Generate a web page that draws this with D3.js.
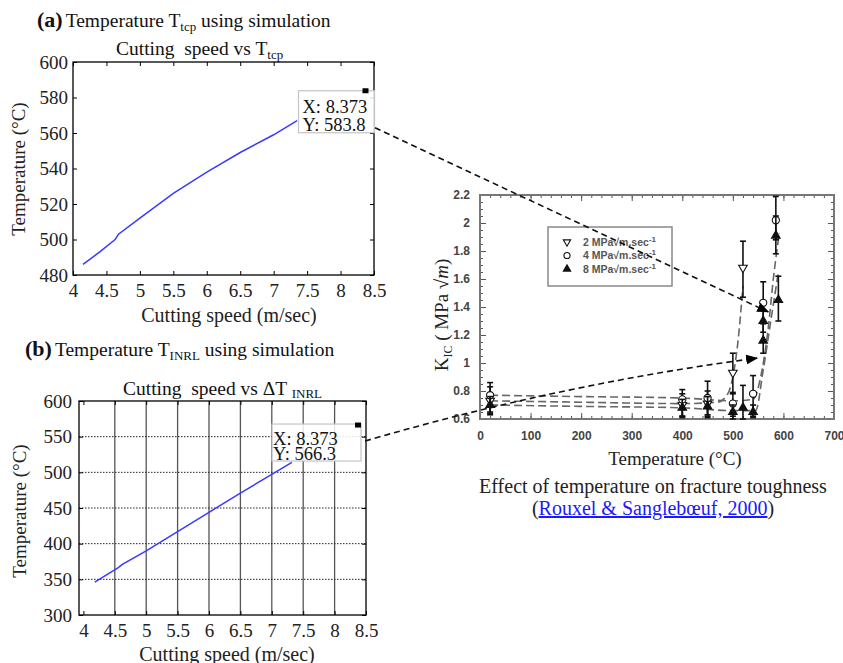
<!DOCTYPE html>
<html lang="en">
<head>
<meta charset="utf-8">
<title>Cutting speed vs temperature / fracture toughness</title>
<script src="https://cdnjs.cloudflare.com/ajax/libs/d3/7.8.5/d3.min.js"></script>
<style>
  body { margin: 0; background: #fff; }
  svg { display: block; }
</style>
</head>
<body>
<div id="main"></div>
<script>
// ---- panel (a): cutting speed vs T_tcp
const speedA = [4.15, 4.4, 4.63, 4.68, 5, 5.5, 6, 6.5, 7, 7.35];
const tempA  = [486, 493, 500, 503, 512, 526, 538, 549, 559, 567];
const speedTicks = [4, 4.5, 5, 5.5, 6, 6.5, 7, 7.5, 8, 8.5];
const tempTicksA = [480, 500, 520, 540, 560, 580, 600];

// ---- panel (b): cutting speed vs dT_INRL
const speedB = [4.18, 4.55, 4.62, 5, 5.5, 6, 6.5, 7, 7.32];
const tempB  = [346, 366, 371, 390, 417, 444, 471, 497, 514];
const tempTicksB = [300, 350, 400, 450, 500, 550, 600];

// data tips
const tipX = [8.373, 8.373];
const tipY = [583.8, 566.3];

// ---- right panel: K_IC vs temperature (Rouxel & Sanglebœuf 2000)
const rates = ["2", "4", "8"];
const t2 = [20, 400, 450, 500, 520];
const k2 = [0.73, 0.70, 0.71, 0.93, 1.68];
const lo2 = [0.65, 0.62, 0.63, 0.78, 1.47];
const hi2 = [0.83, 0.78, 0.80, 1.07, 1.87];
const t4 = [20, 400, 450, 500, 540, 560, 585];
const k4 = [0.77, 0.74, 0.75, 0.71, 0.78, 1.43, 2.02];
const lo4 = [0.64, 0.61, 0.62, 0.62, 0.62, 1.29, 1.88];
const hi4 = [0.86, 0.81, 0.87, 0.79, 0.91, 1.58, 2.19];
const t8 = [20, 400, 450, 500, 520, 540, 560, 560, 585, 590];
const k8 = [0.70, 0.68, 0.69, 0.65, 0.68, 0.65, 1.16, 1.30, 1.91, 1.45];
const lo8 = [0.63, 0.62, 0.61, 0.60, 0.60, 0.61, 1.07, 1.22, 1.78, 1.30];
const hi8 = [0.76, 0.74, 0.76, 0.70, 0.84, 0.70, 1.28, 1.38, 2.05, 1.62];
// dashed fit curves
const fitT2 = [20, 200, 400, 470, 490, 500, 510, 520];
const fitK2 = [0.73, 0.72, 0.71, 0.72, 0.78, 0.90, 1.15, 1.55];
const fitT4 = [20, 200, 400, 500, 540, 555, 570, 580, 592];
const fitK4 = [0.77, 0.76, 0.75, 0.73, 0.74, 0.90, 1.25, 1.60, 1.93];
const fitT8 = [20, 200, 400, 500, 545, 560, 575, 590];
const fitK8 = [0.70, 0.69, 0.68, 0.66, 0.66, 0.95, 1.30, 1.65];
const tTicks = [0, 100, 200, 300, 400, 500, 600, 700];
const kTicks = [0.6, 0.8, 1, 1.2, 1.4, 1.6, 1.8, 2, 2.2];
// where the connector arrows land (temperature, K_IC)
const arrowT = [570, 548];
const arrowK = [1.365, 1.035];

const serif = "'Liberation Serif', 'Times New Roman', serif";
const sans = "'Liberation Sans', Arial, sans-serif";

const svg = d3.select("#main").append("svg")
  .attr("width", 843).attr("height", 663);

const defs = svg.append("defs");
defs.append("marker")
  .attr("id", "arrow")
  .attr("viewBox", "0 0 12 10")
  .attr("refX", 11).attr("refY", 5)
  .attr("markerWidth", 12).attr("markerHeight", 10)
  .attr("markerUnits", "userSpaceOnUse")
  .attr("orient", "auto")
  .append("path").attr("d", "M0,0 L12,5 L0,10 z").attr("fill", "#000");

// scales
const xA = d3.scaleLinear([4, 8.5], [73, 374]);
const yA = d3.scaleLinear([480, 600], [275, 62]);
const xB = d3.scaleLinear([3.93, 8.5], [79, 366]);
const yB = d3.scaleLinear([300, 600], [615, 401]);
const xK = d3.scaleLinear([0, 700], [480, 834]);
const yK = d3.scaleLinear([0.6, 2.2], [419, 195]);

function styleAxis(g, font, size, weight, color) {
  g.select(".domain").remove();
  g.selectAll("line").attr("stroke", "#000");
  g.selectAll("text")
    .attr("font-family", font).attr("font-size", size)
    .attr("font-weight", weight).attr("fill", color);
}

// matlab-style box with inward ticks
function matlabPanel(x, y, yTicks, pad) {
  const g = svg.append("g");
  const [x0, x1] = x.range(), [y0, y1] = y.range();
  g.append("g").attr("transform", `translate(0,${y0})`)
    .call(d3.axisBottom(x).tickValues(speedTicks).tickSizeInner(-4).tickSizeOuter(0)
      .tickPadding(9).tickFormat(d3.format("")))
    .call(a => styleAxis(a, serif, 19, "normal", "#222"));
  g.append("g").attr("transform", `translate(0,${y1})`)
    .call(d3.axisTop(x).tickValues(speedTicks).tickSizeInner(-4).tickSizeOuter(0).tickFormat(""))
    .call(a => styleAxis(a, serif, 19, "normal", "#222"));
  g.append("g").attr("transform", `translate(${x0},0)`)
    .call(d3.axisLeft(y).tickValues(yTicks).tickSizeInner(-4).tickSizeOuter(0)
      .tickPadding(pad).tickFormat(d3.format("")))
    .call(a => styleAxis(a, serif, 19, "normal", "#222"));
  g.append("g").attr("transform", `translate(${x1},0)`)
    .call(d3.axisRight(y).tickValues(yTicks).tickSizeInner(-4).tickSizeOuter(0).tickFormat(""))
    .call(a => styleAxis(a, serif, 19, "normal", "#222"));
  return g;
}

function frame(g, x, y, color, w) {
  g.append("rect")
    .attr("x", x.range()[0]).attr("y", y.range()[1])
    .attr("width", x.range()[1] - x.range()[0])
    .attr("height", y.range()[0] - y.range()[1])
    .attr("fill", "none").attr("stroke", color).attr("stroke-width", w);
}

function blueLine(g, x, y, xs, ys) {
  g.append("path")
    .datum(xs.map((v, i) => [v, ys[i]]))
    .attr("d", d3.line().x(d => x(d[0])).y(d => y(d[1])))
    .attr("fill", "none").attr("stroke", "#3a3aff").attr("stroke-width", 1.5);
}

function tip(g, mx, my, box, tx, lines) {
  g.append("rect")
    .attr("x", mx + box[0]).attr("y", my + box[1])
    .attr("width", box[2]).attr("height", box[3])
    .attr("fill", "#fff").attr("fill-opacity", 0.85)
    .attr("stroke", "#c4c4c4").attr("stroke-width", 1.2);
  lines.forEach((s, i) => {
    g.append("text").attr("x", mx + tx[0]).attr("y", my + tx[1] + i * tx[2])
      .attr("font-family", serif).attr("font-size", 18.5).attr("fill", "#111")
      .text(s);
  });
  g.append("rect").attr("x", mx - 3).attr("y", my - 2.5)
    .attr("width", 6).attr("height", 5).attr("fill", "#000");
}

function axisLabelY(text, cx, cy, size) {
  return svg.append("text")
    .attr("transform", `translate(${cx},${cy}) rotate(-90)`)
    .attr("text-anchor", "middle").attr("dy", "0.35em")
    .attr("font-family", serif).attr("font-size", size).attr("fill", "#222")
    .text(text);
}

// ================= panel (a)
const ttl = svg.append("text").attr("x", 37).attr("y", 27)
  .attr("font-family", serif).attr("fill", "#111");
ttl.append("tspan").attr("font-weight", "bold").attr("font-size", 22).text("(a)");
ttl.append("tspan").attr("font-size", 19.5).attr("dx", 3).text("Temperature T");
ttl.append("tspan").attr("font-size", 13).attr("dy", 4).text("tcp");
ttl.append("tspan").attr("font-size", 19.5).attr("dy", -4).text(" using simulation");

const subA = svg.append("text").attr("x", 116).attr("y", 55)
  .attr("font-family", serif).attr("fill", "#111").attr("font-size", 19.5);
subA.append("tspan").text("Cutting  speed vs T").attr("xml:space", "preserve");
subA.append("tspan").attr("font-size", 13).attr("dy", 4).text("tcp");

const gA = matlabPanel(xA, yA, tempTicksA, 5);
blueLine(gA, xA, yA, speedA, tempA);
frame(gA, xA, yA, "#000", 1.3);
axisLabelY("Temperature (°C)", 18, 169, 19);
svg.append("text").attr("x", 229).attr("y", 322).attr("text-anchor", "middle")
  .attr("font-family", serif).attr("font-size", 20).attr("fill", "#222")
  .text("Cutting speed (m/sec)");

const mAx = xA(tipX[0]), mAy = yA(tipY[0]);
tip(gA, mAx, mAy, [-67, 0, 76, 42], [-63, 22, 18], ["X: " + tipX[0], "Y: " + tipY[0]]);

// ================= panel (b)
const ttlB = svg.append("text").attr("x", 25).attr("y", 356)
  .attr("font-family", serif).attr("fill", "#111");
ttlB.append("tspan").attr("font-weight", "bold").attr("font-size", 22).text("(b)");
ttlB.append("tspan").attr("font-size", 19.5).attr("dx", 3).text("Temperature T");
ttlB.append("tspan").attr("font-size", 13).attr("dy", 4).text("INRL");
ttlB.append("tspan").attr("font-size", 19.5).attr("dy", -4).text(" using simulation");

const subB = svg.append("text").attr("x", 123).attr("y", 395)
  .attr("font-family", serif).attr("fill", "#111").attr("font-size", 19.5);
subB.append("tspan").text("Cutting  speed vs ΔT ").attr("xml:space", "preserve");
subB.append("tspan").attr("font-size", 13).attr("dy", 3).text("INRL");

const gB = svg.append("g");
// grid: solid verticals, dotted horizontals
gB.selectAll("line.vg").data(speedTicks.slice(1, -1)).join("line")
  .attr("x1", d => xB(d)).attr("x2", d => xB(d))
  .attr("y1", yB.range()[0]).attr("y2", yB.range()[1])
  .attr("stroke", "#555").attr("stroke-width", 1.3);
gB.selectAll("line.hg").data(tempTicksB.slice(1, -1)).join("line")
  .attr("x1", xB.range()[0]).attr("x2", xB.range()[1])
  .attr("y1", d => yB(d)).attr("y2", d => yB(d))
  .attr("stroke", "#222").attr("stroke-width", 1).attr("stroke-dasharray", "1.5,1.5");
const gB2 = matlabPanel(xB, yB, tempTicksB, 7);
blueLine(gB2, xB, yB, speedB, tempB);
frame(gB2, xB, yB, "#000", 1.3);
axisLabelY("Temperature (°C)", 19, 511, 19);
svg.append("text").attr("x", 227).attr("y", 661).attr("text-anchor", "middle")
  .attr("font-family", serif).attr("font-size", 20).attr("fill", "#222")
  .text("Cutting speed (m/sec)");

const mBx = xB(tipX[1]), mBy = yB(tipY[1]);
tip(gB2, mBx, mBy, [-86, -1, 89, 37], [-85, 20, 15], ["X: " + tipX[1], "Y: " + tipY[1]]);

// ================= right panel
const gK = svg.append("g");
const xK0 = xK.range()[0], xK1 = xK.range()[1], yK0 = yK.range()[0], yK1 = yK.range()[1];
const minorT = d3.range(0, 701, 20), minorK = d3.range(0.6, 2.201, 0.05);

gK.append("g").attr("transform", `translate(0,${yK0})`)
  .call(d3.axisBottom(xK).tickValues(minorT).tickSizeInner(-3).tickSizeOuter(0).tickFormat(""))
  .call(a => styleAxis(a, sans, 12, "bold", "#444"));
gK.append("g").attr("transform", `translate(0,${yK0})`)
  .call(d3.axisBottom(xK).tickValues(tTicks).tickSizeInner(-6).tickSizeOuter(0).tickPadding(12))
  .call(a => styleAxis(a, sans, 12, "bold", "#444"));
gK.append("g").attr("transform", `translate(0,${yK1})`)
  .call(d3.axisTop(xK).tickValues(minorT).tickSizeInner(-3).tickSizeOuter(0).tickFormat(""))
  .call(a => styleAxis(a, sans, 12, "bold", "#444"));
gK.append("g").attr("transform", `translate(0,${yK1})`)
  .call(d3.axisTop(xK).tickValues(tTicks).tickSizeInner(-6).tickSizeOuter(0).tickFormat(""))
  .call(a => styleAxis(a, sans, 12, "bold", "#444"));
gK.append("g").attr("transform", `translate(${xK0},0)`)
  .call(d3.axisLeft(yK).tickValues(minorK).tickSizeInner(-3).tickSizeOuter(0).tickFormat(""))
  .call(a => styleAxis(a, sans, 12, "bold", "#444"));
gK.append("g").attr("transform", `translate(${xK0},0)`)
  .call(d3.axisLeft(yK).tickValues(kTicks).tickSizeInner(-6).tickSizeOuter(0).tickPadding(10)
    .tickFormat(d3.format("")))
  .call(a => styleAxis(a, sans, 12, "bold", "#444"));
gK.append("g").attr("transform", `translate(${xK1},0)`)
  .call(d3.axisRight(yK).tickValues(minorK).tickSizeInner(-3).tickSizeOuter(0).tickFormat(""))
  .call(a => styleAxis(a, sans, 12, "bold", "#444"));
gK.append("g").attr("transform", `translate(${xK1},0)`)
  .call(d3.axisRight(yK).tickValues(kTicks).tickSizeInner(-6).tickSizeOuter(0).tickFormat(""))
  .call(a => styleAxis(a, sans, 12, "bold", "#444"));
gK.selectAll("line").attr("stroke", "#555");
frame(gK, xK, yK, "#777", 2);

// fits
const fitLine = d3.line().x(d => xK(d[0])).y(d => yK(d[1])).curve(d3.curveMonotoneX);
[[fitT2, fitK2], [fitT4, fitK4], [fitT8, fitK8]].forEach(([ts, ks]) => {
  gK.append("path").datum(ts.map((t, i) => [t, ks[i]]))
    .attr("d", fitLine)
    .attr("fill", "none").attr("stroke", "#666").attr("stroke-width", 1.6)
    .attr("stroke-dasharray", "8,4");
});

// error bars + symbols
const series = [
  { t: t2, k: k2, lo: lo2, hi: hi2, sym: "down" },
  { t: t4, k: k4, lo: lo4, hi: hi4, sym: "circle" },
  { t: t8, k: k8, lo: lo8, hi: hi8, sym: "up" }
];
series.forEach(s => {
  const pts = s.t.map((t, i) => ({ t, k: s.k[i], lo: s.lo[i], hi: s.hi[i] }));
  const eb = gK.append("g").attr("stroke", "#111").attr("stroke-width", 1.6);
  pts.forEach(p => {
    const cx = xK(p.t);
    eb.append("line").attr("x1", cx).attr("x2", cx).attr("y1", yK(p.lo)).attr("y2", yK(p.hi));
    eb.append("line").attr("x1", cx - 3).attr("x2", cx + 3).attr("y1", yK(p.hi)).attr("y2", yK(p.hi));
    eb.append("line").attr("x1", cx - 3).attr("x2", cx + 3).attr("y1", yK(p.lo)).attr("y2", yK(p.lo));
  });
  drawSymbols(gK, pts.map(p => [xK(p.t), yK(p.k)]), s.sym, 1);
});

function drawSymbols(g, xy, sym, scale) {
  xy.forEach(([cx, cy]) => {
    if (sym === "circle") {
      g.append("circle").attr("cx", cx).attr("cy", cy).attr("r", 3.6 * scale)
        .attr("fill", "#fff").attr("stroke", "#111").attr("stroke-width", 1.1);
    } else {
      g.append("path")
        .attr("d", d3.symbol(d3.symbolTriangle, 32 * scale * scale)())
        .attr("transform", `translate(${cx},${cy})` + (sym === "down" ? " rotate(180)" : ""))
        .attr("fill", sym === "up" ? "#111" : "#fff")
        .attr("stroke", "#111").attr("stroke-width", 1.1);
    }
  });
}

// legend
const lg = gK.append("g").attr("transform", "translate(548,227)");
lg.append("rect").attr("width", 124).attr("height", 59)
  .attr("fill", "#fff").attr("stroke", "#888").attr("stroke-width", 1.5);
series.forEach((s, i) => {
  const ly = 15 + i * 13.5;
  drawSymbols(lg, [[19, ly]], s.sym, 0.85);
  const t = lg.append("text").attr("x", 35).attr("y", ly + 3.5)
    .attr("font-family", sans).attr("font-size", 10.5).attr("font-weight", "bold").attr("fill", "#555");
  t.append("tspan").text(rates[i] + " MPa√m.sec");
  t.append("tspan").attr("font-size", 8).attr("dy", -4).text("-1");
});

// axis labels right panel
const kl = svg.append("text")
  .attr("transform", `translate(441,315) rotate(-90)`)
  .attr("text-anchor", "middle").attr("dy", "0.35em")
  .attr("font-family", serif).attr("font-size", 19).attr("fill", "#222");
kl.append("tspan").text("K");
kl.append("tspan").attr("font-size", 12).attr("dy", 4).text("IC");
kl.append("tspan").attr("dy", -4).text(" ( MPa √");
kl.append("tspan").attr("font-style", "italic").text("m");
kl.append("tspan").text(")");

svg.append("text").attr("x", 675).attr("y", 465).attr("text-anchor", "middle")
  .attr("font-family", serif).attr("font-size", 19).attr("fill", "#222")
  .text("Temperature (°C)");
svg.append("text").attr("x", 653).attr("y", 493).attr("text-anchor", "middle")
  .attr("font-family", serif).attr("font-size", 20).attr("fill", "#222")
  .text("Effect of temperature on fracture toughness");
const cite = svg.append("text").attr("x", 653).attr("y", 515).attr("text-anchor", "middle")
  .attr("font-family", serif).attr("font-size", 20).attr("fill", "#222");
cite.append("tspan").text("(");
cite.append("tspan").attr("fill", "#1a1aff").attr("text-decoration", "underline")
  .text("Rouxel & Sanglebœuf, 2000");
cite.append("tspan").text(")");

// ================= connectors from data tips to the toughness curve
const conn = svg.append("g").attr("fill", "none").attr("stroke", "#111")
  .attr("stroke-width", 1.6).attr("stroke-dasharray", "6,4");
conn.append("path")
  .attr("d", `M${mAx + 9.5},${mAy + 37} L${xK(arrowT[0])},${yK(arrowK[0])}`)
  .attr("marker-end", "url(#arrow)");
const bx0 = mBx + 7, by0 = mBy + 16, bx1 = xK(arrowT[1]), by1 = yK(arrowK[1]);
conn.append("path")
  .attr("d", `M${bx0},${by0} Q${xK(160)},${yK(0.85)} ${bx1},${by1}`)
  .attr("marker-end", "url(#arrow)");
</script>
</body>
</html>
